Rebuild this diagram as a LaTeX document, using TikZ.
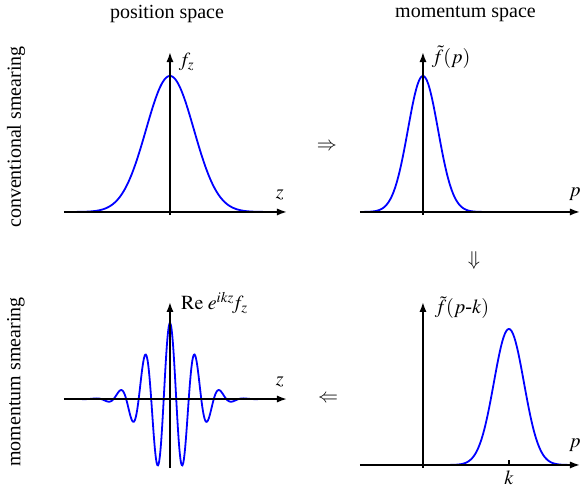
\documentclass[tikz,border=0pt]{standalone}
\usepackage{mathptmx}
\usepackage[no-math]{fontspec}
\setmainfont{Liberation Serif}
\usetikzlibrary{positioning,arrows.meta}
\definecolor{curve}{HTML}{0000FF}
\tikzset{
  axis/.style={line width=0.9pt, -{Latex[length=5pt,width=3.6pt]}},
  plot/.style={line width=0.9pt, draw=curve, smooth, samples=160},
  lbl/.style={inner sep=1pt},
  ylbl/.style={inner sep=0pt, anchor=west},
  implies/.style={inner sep=1pt, font=\normalsize},
}

\begin{document}
\begin{tikzpicture}
\useasboundingbox (0,0) rectangle (10.298,8.558);
% column and row titles
\node (posT) at (2.935,8.312) {position space};
\node (momT) at (8.180,8.312) {momentum space};
\node[rotate=90] (convR) at (0.281,6.151) {conventional smearing};
\node[rotate=90] (momR) at (0.281,1.845) {momentum smearing};
% top left: gaussian in z
\begin{scope}[shift={(2.987,4.833)}]
\draw[plot] plot[domain=-1.80:1.75] (\x,{2.39*exp(-\x*\x/0.3528)});
\draw[axis] (-1.863,0) -- (2.056,0);
\draw[axis] (0,-0.05) -- (0,2.81);
\node[lbl] (zA) at (1.93,0.30) {$z$};
\node[ylbl] (fA) at (0.15,2.64) {$f_z$};
\end{scope}
% top right: its transform
\begin{scope}[shift={(7.433,4.833)}]
\draw[plot] plot[domain=-1.05:2.65] (\x,{2.39*exp(-\x*\x/0.1394)});
\draw[axis] (-1.107,0) -- (2.759,0);
\draw[axis] (0,-0.05) -- (0,2.81);
\node[lbl] (pB) at (2.67,0.31) {$p$};
\node[ylbl] (fB) at (0.15,2.72) {$\tilde f(p)$};
\end{scope}
% bottom right: shifted by k
\begin{scope}[shift={(7.433,0.387)}]
\draw[plot] plot[domain=-1.05:2.65] (\x,{2.39*exp(-(\x-1.51)*(\x-1.51)/0.1394)});
\draw[axis] (-1.107,0) -- (2.759,0);
\draw[axis] (0,-0.05) -- (0,2.864);
\draw[line width=0.8pt] (1.51,0) -- (1.51,0.08);
\node[lbl] (kD) at (1.51,-0.22) {$k$};
\node[lbl] (pD) at (2.67,0.34) {$p$};
\node[ylbl] (fD) at (0.20,2.76) {$\tilde f(p\mbox{-}k)$};
\end{scope}
% bottom left: back in z
\begin{scope}[shift={(2.987,1.546)}]
\draw[plot,samples=300] plot[domain=-1.80:1.75] (\x,{1.335*exp(-\x*\x/0.3528)*cos(818.2*\x)});
\draw[axis] (-1.863,0) -- (2.056,0);
\draw[axis] (0,-1.213) -- (0,1.705);
\node[lbl] (zC) at (1.93,0.30) {$z$};
\node[ylbl] (fC) at (0.19,1.69) {$\mathrm{Re}\;e^{ikz}\!f_z$};
\end{scope}
% the steps
\node[implies] (s1) at (5.746,5.975) {$\Rightarrow$};
\node[implies] (s2) at (8.330,3.989) {$\Downarrow$};
\node[implies] (s3) at (5.764,1.546) {$\Leftarrow$};
\end{tikzpicture}
\end{document}
